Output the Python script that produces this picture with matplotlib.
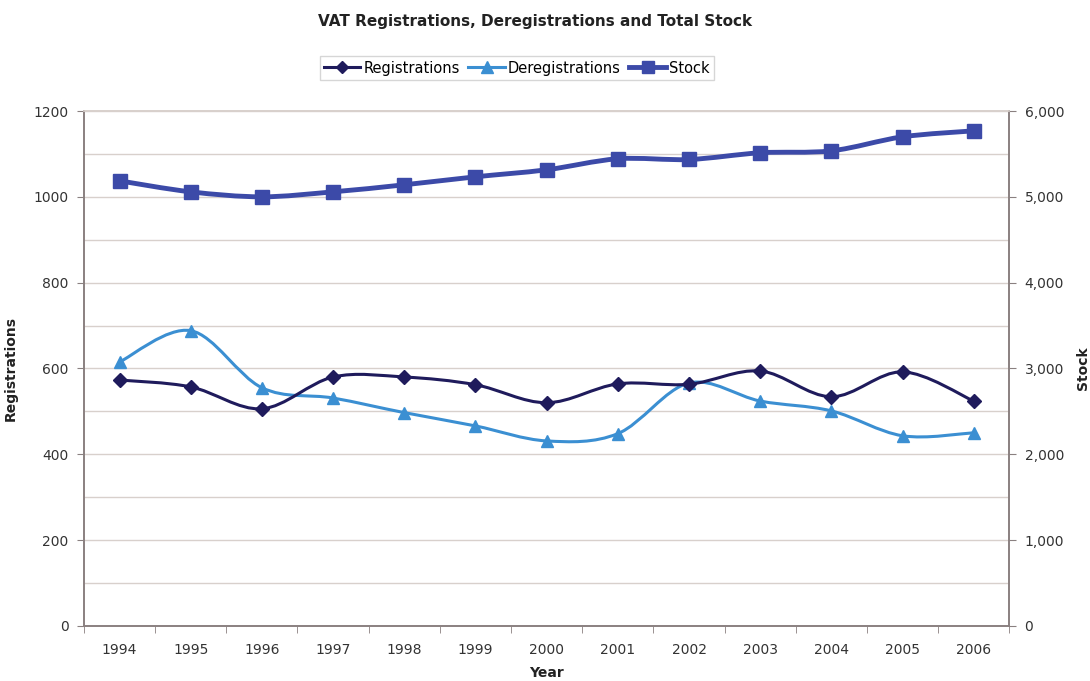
import matplotlib as mpl
mpl.use('Agg')
import matplotlib.pyplot as plt
import matplotlib.ticker as mtick
from matplotlib.path import Path
from matplotlib.patches import PathPatch
from matplotlib.lines import Line2D

years = ['1994', '1995', '1996', '1997', '1998', '1999', '2000',
         '2001', '2002', '2003', '2004', '2005', '2006']
registrations = [573, 557, 506, 580, 580, 562, 520, 564, 563, 594, 534, 592, 524]
deregistrations = [615, 688, 555, 531, 497, 466, 431, 448, 566, 524, 501, 443, 450]
stock = [5186, 5058, 5000, 5058, 5140, 5233, 5315, 5443, 5435, 5513, 5536, 5699, 5769]

c_reg = '#1f1b5c'
c_dereg = '#3b8fd2'
c_stock = '#3c4aa8'
c_axis = '#8a8080'
c_grid = '#d8d0cc'

plt.rcParams['font.family'] = ['DejaVu Sans']


def smooth_path(xs, ys, t=1.0 / 6):
    # excel-like smoothed line, drawn as bezier segments through the points
    verts = [(xs[0], ys[0])]
    codes = [Path.MOVETO]
    n = len(xs)
    for i in range(n - 1):
        x0, y0 = (xs[i - 1], ys[i - 1]) if i > 0 else (xs[i], ys[i])
        x1, y1 = xs[i], ys[i]
        x2, y2 = xs[i + 1], ys[i + 1]
        x3, y3 = (xs[i + 2], ys[i + 2]) if i + 2 < n else (x2, y2)
        verts += [(x1 + (x2 - x0) * t, y1 + (y2 - y0) * t),
                  (x2 - (x3 - x1) * t, y2 - (y3 - y1) * t),
                  (x2, y2)]
        codes += [Path.CURVE4] * 3
    return Path(verts, codes)


fig = plt.figure(figsize=(10.9, 6.81), dpi=100)
ax = fig.add_axes([0.077, 0.081, 0.849, 0.756])
ax2 = ax.twinx()

x = list(range(len(years)))

ax.add_patch(PathPatch(smooth_path(x, deregistrations), fill=False,
                       edgecolor=c_dereg, lw=2.2, zorder=3))
ax.plot(x, deregistrations, ls='none', marker='^', ms=9, color=c_dereg, zorder=4)
ax.add_patch(PathPatch(smooth_path(x, registrations), fill=False,
                       edgecolor=c_reg, lw=2.2, zorder=5))
ax.plot(x, registrations, ls='none', marker='D', ms=7, color=c_reg, zorder=6)

ax2.add_patch(PathPatch(smooth_path(x, stock), fill=False,
                        edgecolor=c_stock, lw=3.5, zorder=3))
ax2.plot(x, stock, ls='none', marker='s', ms=10, color=c_stock, zorder=4)

ax.set_xlim(-0.5, len(years) - 0.5)
ax.set_ylim(0, 1200)
ax2.set_ylim(0, 6000)

ax.set_xticks(x)
ax.set_xticklabels(years)
ax.xaxis.set_minor_locator(mtick.FixedLocator([i + 0.5 for i in range(-1, len(years))]))
ax.tick_params(axis='x', which='major', length=0, pad=12, labelsize=10, colors='#333333')
ax.tick_params(axis='x', which='minor', length=5, color=c_axis, direction='out')

ax.yaxis.set_major_locator(mtick.MultipleLocator(200))
ax.yaxis.set_minor_locator(mtick.MultipleLocator(100))
ax.tick_params(axis='y', which='major', length=5, color=c_axis, labelsize=10,
               labelcolor='#333333', pad=6)
ax.tick_params(axis='y', which='minor', length=0)
ax.grid(True, which='both', axis='y', color=c_grid, lw=1)
ax.set_axisbelow(True)

ax2.yaxis.set_major_locator(mtick.MultipleLocator(1000))
ax2.yaxis.set_major_formatter(mtick.StrMethodFormatter('{x:,.0f}'))
ax2.tick_params(axis='y', length=5, color=c_axis, labelsize=10, labelcolor='#333333', pad=6)

for a in (ax, ax2):
    for s in a.spines.values():
        s.set_color(c_axis)
        s.set_linewidth(1.2)
ax.spines['top'].set_color(c_grid)
ax2.spines['top'].set_color(c_grid)

ax.set_xlabel('Year', fontsize=10, fontweight='bold', labelpad=7, color='#222222')
ax.set_ylabel('Registrations', fontsize=10, fontweight='bold', color='#222222')
ax.yaxis.set_label_coords(-0.071, 0.5)
ax2.set_ylabel('Stock', fontsize=10, fontweight='bold', color='#222222')
ax2.yaxis.set_label_coords(1.072, 0.5)

fig.suptitle('VAT Registrations, Deregistrations and Total Stock', x=0.491, y=0.98,
             fontsize=11, fontweight='bold', color='#222222')

handles = [Line2D([], [], color=c_reg, lw=2.2, marker='D', ms=6),
           Line2D([], [], color=c_dereg, lw=2.2, marker='^', ms=8),
           Line2D([], [], color=c_stock, lw=3.5, marker='s', ms=8)]
leg = fig.legend(handles, ['Registrations', 'Deregistrations', 'Stock'],
                 loc='center', bbox_to_anchor=(0.474, 0.9), ncol=3, fontsize=10.5,
                 frameon=True, fancybox=False, edgecolor='#cccccc',
                 handlelength=2.5, handletextpad=0.2, columnspacing=0.6,
                 borderpad=0.3)
leg.get_frame().set_linewidth(1)

fig.savefig('out.png', dpi=100)
